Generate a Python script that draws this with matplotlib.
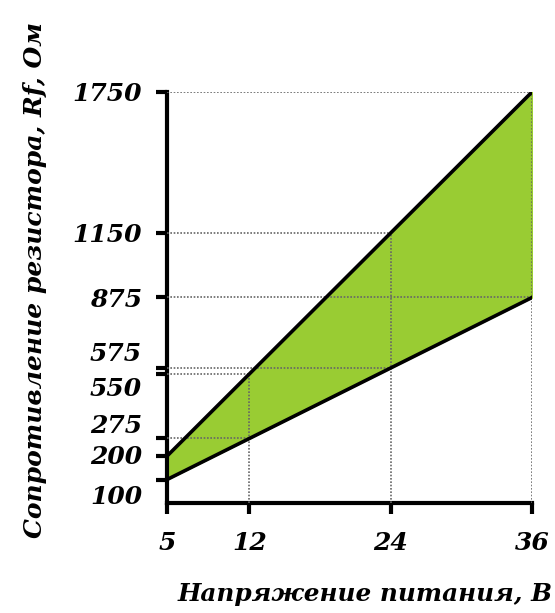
import numpy as np
import matplotlib
matplotlib.use("Agg")
import matplotlib.pyplot as plt
import matplotlib.transforms as mtransforms

# data
voltage = [5, 12, 24, 36]
r_max = [200, 550, 1150, 1750]
r_min = [100, 275, 575, 875]
y_ticks = [100, 200, 275, 550, 575, 875, 1150, 1750]
x_ticks = [5, 12, 24, 36]

# label offsets (points) so the crowded ones don't overlap
label_shift = {100: -11, 200: 1, 275: 11, 550: -9, 575: 12}

font = {"family": "DejaVu Serif", "weight": "bold", "style": "italic"}

fig = plt.figure(figsize=(5.55, 6.13), dpi=100)
ax = fig.add_axes([0.301, 0.1794, 0.6576, 0.6706])

# dotted guide lines
guide = dict(color="#666666", linestyle=(0, (1, 1)), linewidth=1.2, zorder=3)
for x, ylo, yhi in zip(voltage[1:], r_min[1:], r_max[1:]):
    ax.plot([x, x], [0, yhi], **guide)
    ax.plot([5, x], [yhi, yhi], **guide)
    ax.plot([5, x], [ylo, ylo], **guide)

ax.fill_between(voltage, r_min, r_max, color="#99CC33", zorder=2)
ax.plot(voltage, r_max, color="black", linewidth=2.6, zorder=4)
ax.plot(voltage, r_min, color="black", linewidth=2.6, zorder=4)

ax.set_xlim(5, 36)
ax.set_ylim(0, 1750)
ax.set_xticks(x_ticks)
ax.set_yticks(y_ticks)
ax.set_xticklabels([str(v) for v in x_ticks], fontdict=font, fontsize=18)
ax.set_yticklabels([str(v) for v in y_ticks], fontdict=font, fontsize=18)

for sp in ["top", "right"]:
    ax.spines[sp].set_visible(False)
for sp in ["left", "bottom"]:
    ax.spines[sp].set_linewidth(3)
ax.tick_params(axis="both", length=8, width=3, direction="out")
ax.tick_params(axis="y", pad=10)
ax.tick_params(axis="x", pad=12)

for val, lab in zip(y_ticks, ax.get_yticklabels()):
    dy = label_shift.get(val, 0)
    if dy:
        off = mtransforms.ScaledTranslation(0, dy / 72, fig.dpi_scale_trans)
        lab.set_transform(lab.get_transform() + off)

fig.text(0.063, 0.543, "Сопротивление резистора, Rf, Ом", rotation=90,
         ha="center", va="center", fontsize=18, **font)
fig.text(0.658, 0.012, "Напряжение питания, В", ha="center", va="bottom",
         fontsize=17.8, **font)

fig.savefig("out.png", dpi=100)
